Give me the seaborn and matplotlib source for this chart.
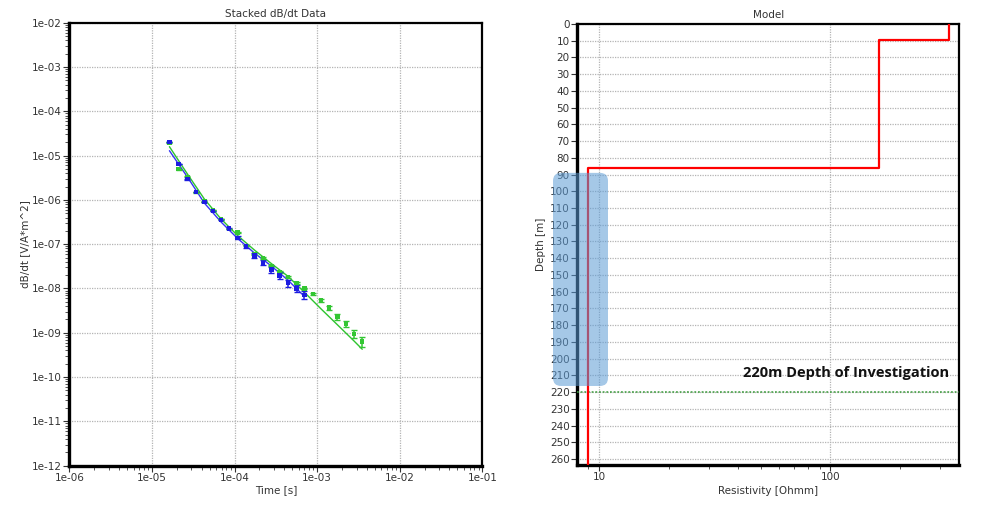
import matplotlib
matplotlib.use("Agg")
import matplotlib.pyplot as plt
import matplotlib.transforms as mtransforms
import numpy as np
import pandas as pd
import seaborn as sns
from matplotlib.patches import FancyBboxPatch
from matplotlib.ticker import FixedLocator, NullFormatter

# --- data: stacked dB/dt soundings
timesBlue = [1.63e-5, 2.10e-5, 2.69e-5, 3.42e-5, 4.31e-5, 5.46e-5, 6.87e-5, 8.65e-5,
             1.09e-4, 1.38e-4, 1.74e-4, 2.21e-4, 2.79e-4, 3.52e-4, 4.48e-4, 5.64e-4, 7.03e-4]
valuesBlue = [2.03e-5, 6.46e-6, 2.92e-6, 1.51e-6, 8.97e-7, 5.61e-7, 3.57e-7, 2.24e-7,
              1.40e-7, 8.87e-8, 5.61e-8, 3.82e-8, 2.68e-8, 1.96e-8, 1.31e-8, 1.00e-8, 7.13e-9]
errBlue = [0.01, 0.01, 0.01, 0.01, 0.01, 0.01, 0.01, 0.015,
           0.03, 0.04, 0.05, 0.06, 0.07, 0.08, 0.08, 0.08, 0.08]  # decades

timesGreen = [1.63e-5, 2.10e-5, 2.69e-5, 3.42e-5, 4.31e-5, 5.46e-5, 6.87e-5, 8.65e-5,
              1.09e-4, 1.38e-4, 1.74e-4, 2.21e-4, 2.79e-4, 3.52e-4, 4.48e-4, 5.64e-4, 7.03e-4,
              8.85e-4, 1.11e-3, 1.40e-3, 1.76e-3, 2.22e-3, 2.80e-3, 3.52e-3]
valuesGreen = [1.95e-5, 4.91e-6, 3.34e-6, 1.50e-6, 9.40e-7, 5.90e-7, 3.70e-7, 2.20e-7,
               1.84e-7, 9.20e-8, 5.90e-8, 4.81e-8, 3.22e-8, 2.36e-8, 1.79e-8, 1.31e-8, 1.00e-8,
               7.52e-9, 5.36e-9, 3.72e-9, 2.27e-9, 1.58e-9, 9.40e-10, 6.30e-10]
errGreen = [0.01, 0.01, 0.01, 0.01, 0.01, 0.01, 0.01, 0.01,
            0.01, 0.01, 0.015, 0.02, 0.02, 0.02, 0.02, 0.02, 0.02,
            0.02, 0.03, 0.045, 0.065, 0.075, 0.1, 0.11]

fitTimesBlue = [1.63e-5, 2.69e-5, 4.31e-5, 6.87e-5, 1.09e-4, 1.74e-4, 2.79e-4, 4.48e-4, 7.03e-4]
fitValuesBlue = [1.29e-5, 3.29e-6, 8.51e-7, 3.17e-7, 1.35e-7, 6.33e-8, 3.22e-8, 1.52e-8, 6.59e-9]
fitTimesGreen = [1.63e-5, 2.69e-5, 4.31e-5, 6.87e-5, 1.09e-4, 1.74e-4, 2.79e-4, 4.48e-4, 7.03e-4,
                 1.11e-3, 1.76e-3, 2.80e-3, 3.52e-3]
fitValuesGreen = [1.59e-5, 3.85e-6, 1.05e-6, 3.71e-7, 1.57e-7, 7.40e-8, 3.66e-8, 1.86e-8, 8.20e-9,
                  3.50e-9, 1.52e-9, 6.53e-10, 4.25e-10]

timeTicks = [1e-6, 1e-5, 1e-4, 1e-3, 1e-2, 1e-1]
timeTickLabels = ["1e-06", "1e-05", "1e-04", "1e-03", "1e-02", "1e-01"]
dbdtTicks = [1e-12, 1e-11, 1e-10, 1e-9, 1e-8, 1e-7, 1e-6, 1e-5, 1e-4, 1e-3, 1e-2]
dbdtTickLabels = ["1e-12", "1e-11", "1e-10", "1e-09", "1e-08", "1e-07",
                  "1e-06", "1e-05", "1e-04", "1e-03", "1e-02"]

# --- data: layered resistivity model
layerResistivity = [327, 162, 9.0]
layerTops = [0, 9.3, 86.3]
modelBottom = 263.3
depthOfInvestigation = 220
doiLabel = "220m Depth of Investigation"
depthTicks = list(range(0, 261, 10))

sns.set_theme(style="ticks")
plt.rcParams["font.family"] = ["DejaVu Sans"]
plt.rcParams["font.size"] = 7.5


# minorLogTicks :: ticks -> list of 2..9 multiples between the decades
def minorLogTicks(ticks):
    return [m * d for d in ticks for m in range(2, 10)]


fig = plt.figure(figsize=(10, 5.16), dpi=100)
axData = fig.add_axes([0.0693, 0.0975, 0.413, 0.8585])
axModel = fig.add_axes([0.5773, 0.0998, 0.3817, 0.8537])

gridKw = dict(color="#b4b4b4", linestyle=(0, (1, 1)), linewidth=0.9)
blue, green = "#1c1ce0", "#33c633"

# ---------------- left: dB/dt data
axData.set_xscale("log")
axData.set_yscale("log")

for t, v, e, c in [(timesBlue, valuesBlue, errBlue, blue), (timesGreen, valuesGreen, errGreen, green)]:
    v = np.array(v)
    e = np.array(e)
    lower = v - v * 10 ** (-e)
    upper = v * 10 ** e - v
    axData.errorbar(t, v, yerr=[lower, upper], fmt="none", ecolor=c, elinewidth=1.1,
                    capsize=2, capthick=1.0, zorder=3)

dfFit = pd.concat([
    pd.DataFrame({"t": fitTimesBlue, "v": fitValuesBlue, "s": "blue"}),
    pd.DataFrame({"t": fitTimesGreen, "v": fitValuesGreen, "s": "green"}),
])
sns.lineplot(data=dfFit, x="t", y="v", hue="s", palette={"blue": "#3535f5", "green": "#2ec42e"},
             linewidth=1.0, legend=False, ax=axData, zorder=2, estimator=None, sort=True)

dfObs = pd.concat([
    pd.DataFrame({"t": timesGreen, "v": valuesGreen, "s": "green"}),
    pd.DataFrame({"t": timesBlue, "v": valuesBlue, "s": "blue"}),
])
sns.scatterplot(data=dfObs, x="t", y="v", hue="s", palette={"blue": blue, "green": green},
                marker="s", s=10, edgecolor="none", legend=False, ax=axData, zorder=4)

axData.set_xlim(1e-6, 1e-1)
axData.set_ylim(1e-12, 1e-2)
axData.xaxis.set_major_locator(FixedLocator(timeTicks))
axData.set_xticklabels(timeTickLabels)
axData.yaxis.set_major_locator(FixedLocator(dbdtTicks))
axData.set_yticklabels(dbdtTickLabels)
axData.xaxis.set_minor_locator(FixedLocator(minorLogTicks(timeTicks[:-1])))
axData.yaxis.set_minor_locator(FixedLocator(minorLogTicks(dbdtTicks[:-1])))
axData.xaxis.set_minor_formatter(NullFormatter())
axData.yaxis.set_minor_formatter(NullFormatter())
axData.grid(True, which="major", **gridKw)
axData.set_title("Stacked dB/dt Data", fontsize=7.5, color="#333333", pad=4)
axData.set_xlabel("Time [s]", fontsize=7.5, color="#333333", labelpad=1)
axData.set_ylabel("dB/dt [V/A*m^2]", fontsize=7.5, color="#333333", labelpad=1)

# ---------------- right: model
axModel.set_xscale("log")
depthSteps = layerTops + [modelBottom]
stepX = np.repeat(layerResistivity, 2)
stepY = np.ravel([[depthSteps[i], depthSteps[i + 1]] for i in range(len(layerResistivity))])
dfModel = pd.DataFrame({"rho": stepX, "depth": stepY})
sns.lineplot(data=dfModel, x="rho", y="depth", sort=False, estimator=None, color="#ff0000",
             linewidth=1.6, ax=axModel, zorder=4)

axModel.axhline(depthOfInvestigation, color="#3b9b3b", linestyle=(0, (1.2, 1.2)), linewidth=1.1, zorder=3)

axModel.set_xlim(8.05, 361)
axModel.set_ylim(modelBottom, 0)
axModel.yaxis.set_major_locator(FixedLocator(depthTicks))
axModel.set_yticklabels([str(d) for d in depthTicks])
axModel.xaxis.set_major_locator(FixedLocator([10, 100]))
axModel.set_xticklabels(["10", "100"])
axModel.xaxis.set_minor_locator(FixedLocator([9] + minorLogTicks([10, 100])))
axModel.xaxis.set_minor_formatter(NullFormatter())
axModel.grid(True, which="major", **gridKw)
axModel.set_title("Model", fontsize=7.5, color="#333333", pad=4)
axModel.set_xlabel("Resistivity [Ohmm]", fontsize=7.5, color="#333333", labelpad=3)
axModel.set_ylabel("Depth [m]", fontsize=7.5, color="#333333", labelpad=3)

labelTrans = mtransforms.blended_transform_factory(axModel.transAxes, axModel.transData)
axModel.text(0.975, depthOfInvestigation - 11.5, doiLabel, transform=labelTrans,
             ha="right", va="center", fontsize=10.5, fontweight="bold", family=["Open Sans", "DejaVu Sans"],
             color="#111111", zorder=6)

# blue highlight box over the deep section of the depth axis
fig.patches.append(FancyBboxPatch((0.553, 0.252), 0.055, 0.413, boxstyle="round,pad=0,rounding_size=0.008",
                                  mutation_aspect=1000 / 516, transform=fig.transFigure,
                                  facecolor="#5b9bd5", edgecolor="none", alpha=0.55, zorder=10))

for ax in (axData, axModel):
    ax.set_facecolor("white")
    for side in ("left", "bottom"):
        ax.spines[side].set_linewidth(2.4)
    for side in ("top", "right"):
        ax.spines[side].set_linewidth(1.6)
        ax.spines[side].set_visible(True)
    for sp in ax.spines.values():
        sp.set_color("black")
    ax.tick_params(which="major", direction="out", length=4, width=0.8, colors="#333333",
                   labelsize=7.5, pad=1.5, left=True, bottom=True, top=False, right=False)
    ax.tick_params(which="minor", direction="out", length=3, width=0.7, colors="#555555",
                   left=True, bottom=True, top=False, right=False)

fig.savefig("out.png", dpi=100, facecolor="white")
